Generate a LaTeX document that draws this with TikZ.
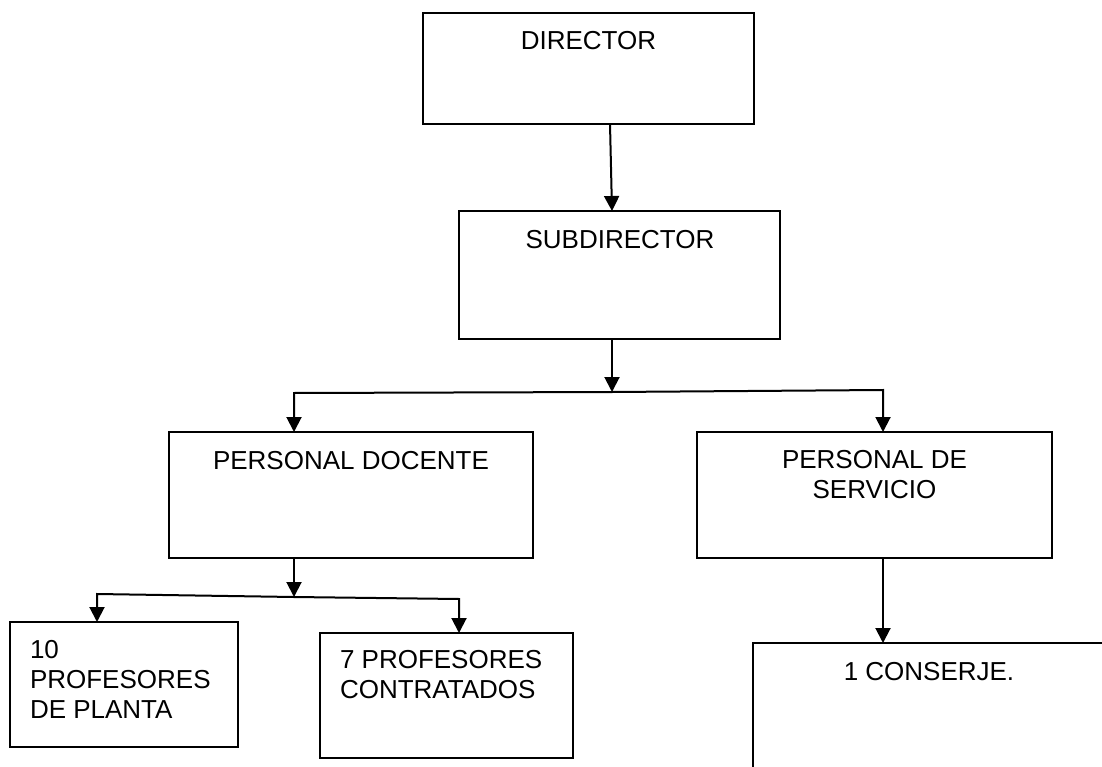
\documentclass[tikz,border=0pt]{standalone}
\usepackage{fontspec}
\setmainfont{Liberation Sans}
\usetikzlibrary{arrows.meta,calc}
\begin{document}
\begin{tikzpicture}[x=1pt,y=-1pt,
  box/.style={draw, line width=1.8pt, inner sep=0pt, outer sep=0pt},
  txt/.style={inner sep=0pt, outer sep=0pt, font=\fontsize{26}{30}\selectfont},
  link/.style={line width=2pt},
  arr/.style={line width=2pt, line join=miter, -{Triangle[width=15pt,length=15pt]}}]
\clip (0,0) rectangle (1102,767);
\fill[white] (0,0) rectangle (1102,767);
% boxes
\node[box, minimum width=331pt, minimum height=111pt] (dir) at (588.5,68.5) {};
\node[box, minimum width=321pt, minimum height=128pt] (sub) at (619.5,275) {};
\node[box, minimum width=364pt, minimum height=126pt] (doc) at (351,495) {};
\node[box, minimum width=355pt, minimum height=126pt] (ser) at (874.5,495) {};
\node[box, minimum width=353pt, minimum height=200pt] (con) at (929.5,743) {};
\node[box, minimum width=228pt, minimum height=125pt] (p10) at (124,684.5) {};
\node[box, minimum width=253pt, minimum height=125pt] (p7) at (446.5,695.5) {};
% texts
\node[txt, anchor=base] (tdir) at (588.5,50) {DIRECTOR};
\node[txt, anchor=base] (tsub) at (620,248) {SUBDIRECTOR};
\node[txt, anchor=base] (tdoc) at (351,469) {PERSONAL DOCENTE};
\node[txt, anchor=north, align=center] (tser) at (874.5,450) {PERSONAL DE\\SERVICIO};
\node[txt, anchor=base] (tcon) at (929,680) {1 CONSERJE.};
\node[txt, anchor=north west, align=left] (tp10) at (30,640) {10\\PROFESORES\\DE PLANTA};
\node[txt, anchor=north west, align=left] (tp7) at (340,650) {7 PROFESORES\\CONTRATADOS};
% junctions
\coordinate (j1) at (612,392);
\coordinate (j1l) at (294,393);
\coordinate (j1r) at (883,390);
\coordinate (j2) at (294,597);
\coordinate (j2l) at (97,594);
\coordinate (j2r) at (459,599);
% connectors
\draw[arr] ([xshift=187pt]dir.south west) -- ([xshift=153pt]sub.north west);
\draw[arr] ([xshift=153pt]sub.south west) -- (j1);
\draw[arr] (j1) -- (j1l) -- (j1l |- doc.north);
\draw[arr] (j1) -- (j1r) -- (j1r |- ser.north);
\draw[arr] (j2 |- doc.south) -- (j2);
\draw[arr] (j2) -- (j2l) -- (j2l |- p10.north);
\draw[arr] (j2) -- (j2r) -- (j2r |- p7.north);
\draw[arr] (j1r |- ser.south) -- (j1r |- con.north);
\end{tikzpicture}
\end{document}
